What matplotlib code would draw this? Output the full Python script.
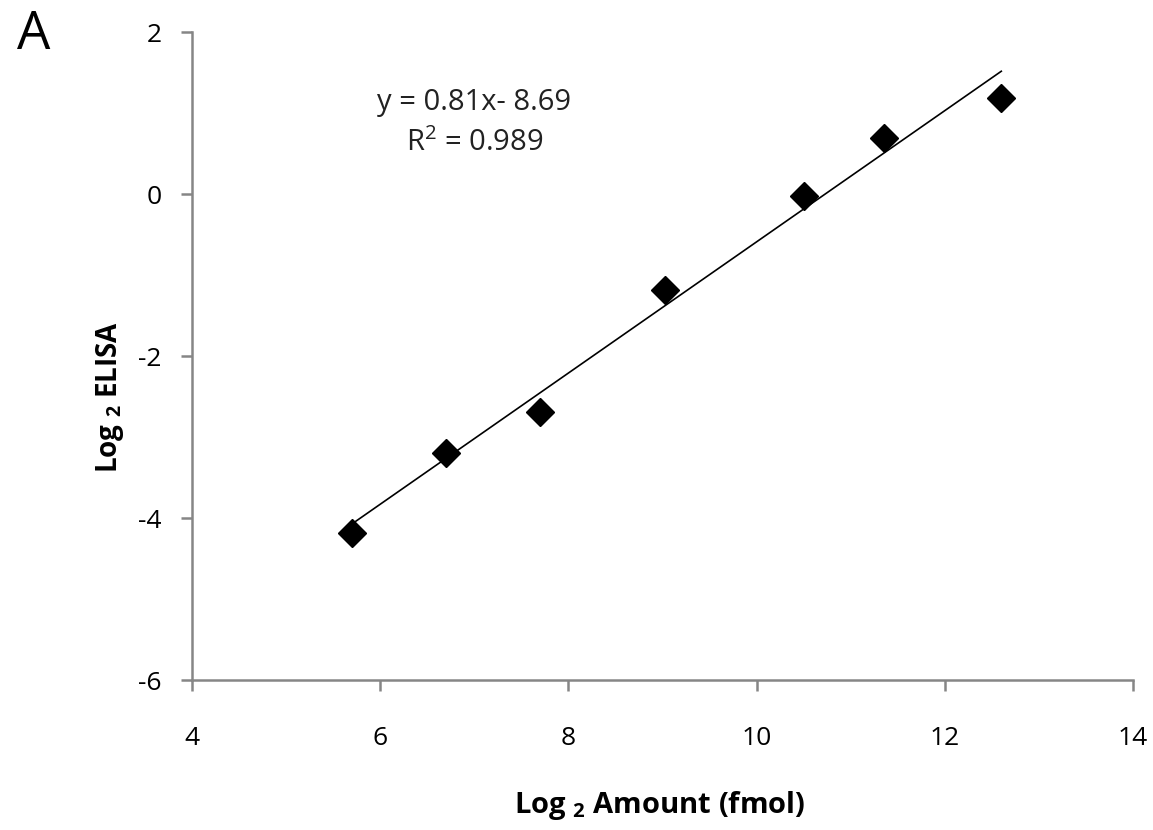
import numpy as np
import matplotlib.pyplot as plt

plt.rcParams['font.family'] = ['Open Sans', 'DejaVu Sans']
plt.rcParams['mathtext.fontset'] = 'custom'
plt.rcParams['mathtext.rm'] = 'Open Sans'
plt.rcParams['mathtext.bf'] = 'Open Sans:bold'
plt.rcParams['axes.unicode_minus'] = False

# data
log2_amount = [5.7, 6.7, 7.7, 9.03, 10.5, 11.35, 12.6]
log2_elisa = [-4.18, -3.2, -2.69, -1.19, -0.02, 0.69, 1.19]
slope = 0.81
intercept = -8.69
r2 = 0.989
x_ticks = [4, 6, 8, 10, 12, 14]
y_ticks = [-6, -4, -2, 0, 2]

axis_col = '#868686'

fig = plt.figure(figsize=(11.53, 8.30), dpi=100)
ax = fig.add_axes([0.1665, 0.1807, 0.8162, 0.7807])

# trend line
xs = np.array([min(log2_amount), max(log2_amount)])
ax.plot(xs, slope * xs + intercept, color='black', lw=1.2, zorder=2)
ax.plot(log2_amount, log2_elisa, 'D', color='black', ms=14, zorder=3)

ax.set_xlim(4, 14)
ax.set_ylim(-6, 2)
ax.set_xticks(x_ticks)
ax.set_yticks(y_ticks)
ax.spines['top'].set_visible(False)
ax.spines['right'].set_visible(False)
for s in ['left', 'bottom']:
    ax.spines[s].set_color(axis_col)
    ax.spines[s].set_linewidth(1.8)
ax.tick_params(direction='out', length=8, width=1.8, color=axis_col,
               labelsize=19)
ax.tick_params(axis='x', pad=25)
ax.tick_params(axis='y', pad=14)

ax.set_xlabel(r'Log $_\mathbf{2}$ Amount (fmol)', fontsize=21,
              fontweight='bold')
ax.set_ylabel(r'Log $_\mathbf{2}$ ELISA', fontsize=20,
              fontweight='bold')
ax.xaxis.set_label_coords(0.497, -0.168)
ax.yaxis.set_label_coords(-0.07, 0.437)

ax.text(7.0, 1.13, 'y = 0.81x- 8.69', ha='center', va='center',
        fontsize=21, color='#222222')
ax.text(7.0, 0.63, 'R$^2$ = %.3f' % r2, ha='center', va='center',
        fontsize=21, color='#222222')

fig.text(0.0295, 0.958, 'A', fontsize=38, ha='center', va='center')

fig.savefig('out.png', dpi=100)
